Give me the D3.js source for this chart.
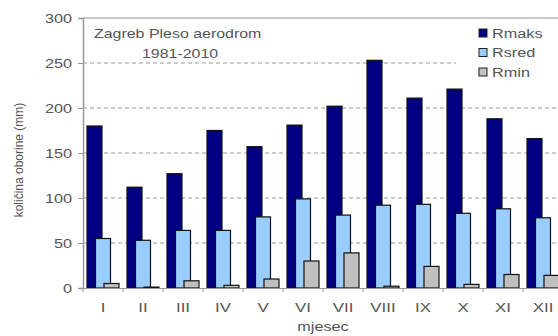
<!DOCTYPE html>
<html><head><meta charset="utf-8">
<script src="https://cdn.jsdelivr.net/npm/d3@7"></script>
<style>body{margin:0;background:#fff}svg{display:block}text{font-family:"Liberation Sans",Arial,sans-serif}</style>
</head><body>
<svg id="c" width="558" height="336"></svg>
<script>
const months = ["I","II","III","IV","V","VI","VII","VIII","IX","X","XI","XII"];
const series = ["Rmaks","Rsred","Rmin"];
const rmaks = [180,112,127,175,157,181,202,253,211,221,188,166];
const rsred = [55,53,64,64,79,99,81,92,93,83,88,78];
const rmin  = [5,1,8,3,10,30,39,2,24,4,15,14];
const yTicks = [0,50,100,150,200,250,300];
const colors = ["#000080","#99ccff","#c0c0c0"];
const values = [rmaks, rsred, rmin];

const svg = d3.select("#c");
const L = 83, R = 563, T = 18, B = 288;
const x = d3.scaleBand().domain(months).range([L, R]).padding(0);
const xs = d3.scalePoint().domain(series).range([4, 21]);
const bw = 15;
const y = d3.scaleLinear().domain([0, 300]).range([B, T]);

function stretch(sel, k) {
  sel.each(function() {
    const w = this.getComputedTextLength();
    d3.select(this).attr("textLength", w * k).attr("lengthAdjust", "spacingAndGlyphs");
  });
}

svg.append("g").selectAll("line").data(yTicks.filter(d => d > 0 && d < 300)).join("line")
  .attr("x1", L).attr("x2", 558).attr("y1", d => y(d)).attr("y2", d => y(d))
  .attr("stroke", "#999").attr("stroke-dasharray", "4,3").attr("stroke-width", 1);

svg.append("line").attr("x1", L).attr("x2", 558).attr("y1", y(300)).attr("y2", y(300))
  .attr("stroke", "#c8c8c8").attr("stroke-width", 2);

svg.append("rect").attr("x", 456).attr("y", 22).attr("width", 102).attr("height", 62).attr("fill", "#fff");

series.forEach((s, i) => {
  svg.append("g").selectAll("rect").data(months).join("rect")
    .attr("x", m => x(m) + xs(s))
    .attr("y", (m, j) => y(values[i][j]))
    .attr("width", bw)
    .attr("height", (m, j) => B - y(values[i][j]))
    .attr("fill", colors[i]).attr("stroke", "#111").attr("stroke-width", 1.2);
});

const ya = svg.append("g").attr("transform", `translate(${L},0)`)
  .call(d3.axisLeft(y).tickValues(yTicks).tickSize(5).tickPadding(6));
ya.select(".domain").attr("stroke", "#999").attr("stroke-width", 1.5);
ya.selectAll(".tick line").attr("stroke", "#999");
ya.selectAll("text").attr("font-size", 12.5).attr("fill", "#555").call(stretch, 1.3);

const xa = svg.append("g").attr("transform", `translate(0,${B})`)
  .call(d3.axisBottom(x).tickSize(0).tickPadding(15));
xa.select(".domain").attr("stroke", "#999").attr("stroke-width", 1);
xa.selectAll("text").attr("font-size", 12.5).attr("fill", "#555").call(stretch, 1.35);
svg.append("g").selectAll("line").data(months.concat(["end"])).join("line")
  .attr("x1", (m, i) => L + i * x.bandwidth()).attr("x2", (m, i) => L + i * x.bandwidth())
  .attr("y1", B).attr("y2", B + 4).attr("stroke", "#999");

svg.append("text").attr("x", (L + R) / 2).attr("y", 331).attr("text-anchor", "middle")
  .attr("font-size", 12.5).attr("fill", "#555").text("mjesec").call(stretch, 1.3);
svg.append("text").attr("transform", "translate(23,160) rotate(-90)").attr("text-anchor", "middle")
  .attr("font-size", 12).attr("fill", "#555").text("količina oborine (mm)");

svg.append("text").attr("x", 94).attr("y", 38).attr("font-size", 13.5).attr("fill", "#555")
  .text("Zagreb Pleso aerodrom").call(stretch, 1.18);
svg.append("text").attr("x", 142).attr("y", 58).attr("font-size", 13.5).attr("fill", "#555")
  .text("1981-2010").call(stretch, 1.18);

const lg = svg.append("g").selectAll("g").data(series).join("g")
  .attr("transform", (d, i) => `translate(479,${33 + i * 19.5})`);
lg.append("rect").attr("x", 0).attr("y", -4).attr("width", 8).attr("height", 8)
  .attr("fill", (d, i) => colors[i]).attr("stroke", "#222").attr("stroke-width", 1);
lg.append("text").attr("x", 13).attr("y", 4.5).attr("font-size", 12.5).attr("fill", "#555")
  .text(d => d).call(stretch, 1.3);
</script>
</body></html>
